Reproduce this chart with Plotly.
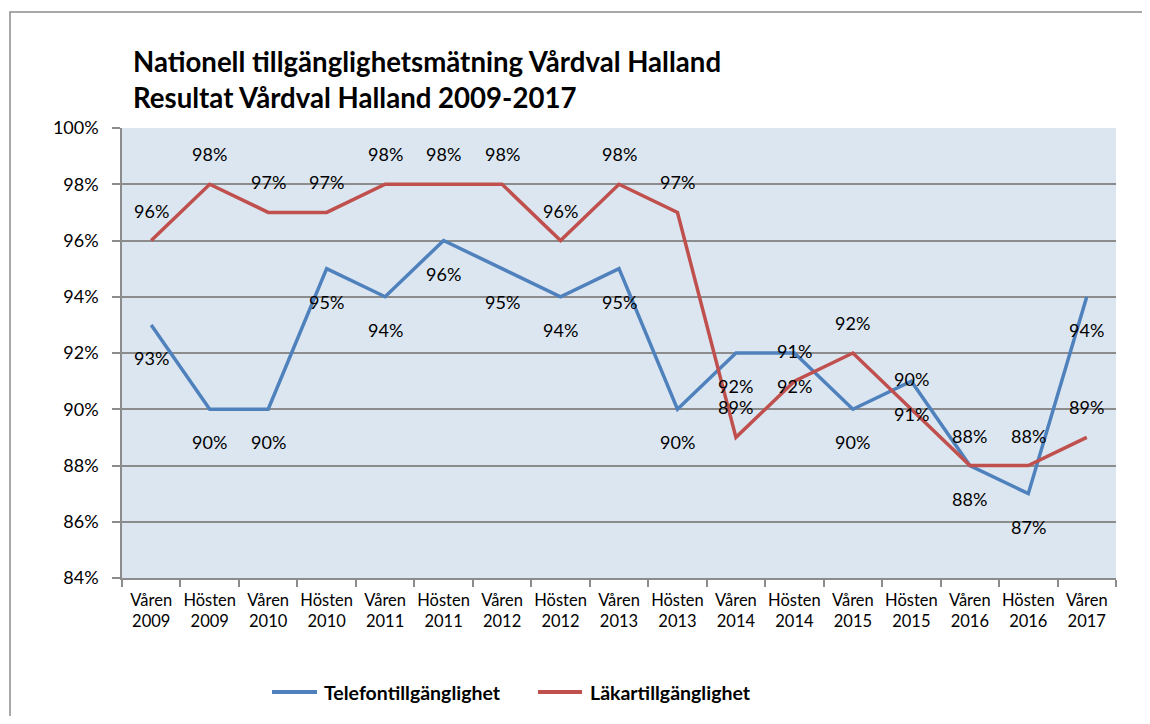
import plotly.graph_objects as go

categories = ["Våren<br>2009", "Hösten<br>2009", "Våren<br>2010", "Hösten<br>2010", "Våren<br>2011",
              "Hösten<br>2011", "Våren<br>2012", "Hösten<br>2012", "Våren<br>2013", "Hösten<br>2013",
              "Våren<br>2014", "Hösten<br>2014", "Våren<br>2015", "Hösten<br>2015", "Våren<br>2016",
              "Hösten<br>2016", "Våren<br>2017"]
telefon = [93, 90, 90, 95, 94, 96, 95, 94, 95, 90, 92, 92, 90, 91, 88, 87, 94]
lakar = [96, 98, 97, 97, 98, 98, 98, 96, 98, 97, 89, 91, 92, 90, 88, 88, 89]
y_ticks = [84, 86, 88, 90, 92, 94, 96, 98, 100]
series_names = ["Telefontillgänglighet", "Läkartillgänglighet"]

BLUE = "#4F81BD"
RED = "#C0504D"
GRID = "#8C8C8C"
FONT = "Lato"

# page body has an 8px margin; figure coordinates = screen - 8
W, H = 1134, 708
L, T = 114, 120
PW, PH = 994, 450
R = W - L - PW
B = H - T - PH


def px(xs):
    return (xs - 8 - L) / PW


def py(ys):
    return 1 - (ys - 8 - T) / PH


fig = go.Figure()
fig.add_trace(go.Scatter(x=categories, y=telefon, mode="lines", name=series_names[0],
                         line=dict(color=BLUE, width=3.5), showlegend=False))
fig.add_trace(go.Scatter(x=categories, y=lakar, mode="lines", name=series_names[1],
                         line=dict(color=RED, width=3.5), showlegend=False))

annotations = []
for c, v in zip(categories, telefon):
    annotations.append(dict(x=c, y=v, text=f"{v}%", showarrow=False, yshift=-33,
                            font=dict(family=FONT, size=18, color="#000")))
for c, v in zip(categories, lakar):
    annotations.append(dict(x=c, y=v, text=f"{v}%", showarrow=False, yshift=30,
                            font=dict(family=FONT, size=18, color="#000")))

shapes = [
    dict(type="rect", xref="paper", yref="paper",
         x0=px(10), x1=px(1170), y0=py(760), y1=py(12),
         line=dict(color="#8C8C8C", width=1.5), fillcolor="rgba(0,0,0,0)", layer="below"),
]

# manual legend
legend_items = [(series_names[0], BLUE, 272, 317, 322), (series_names[1], RED, 538, 582, 588)]
for name, col, x0, x1, xt in legend_items:
    shapes.append(dict(type="line", xref="paper", yref="paper", x0=px(x0), x1=px(x1),
                       y0=py(692), y1=py(692), line=dict(color=col, width=4)))
    annotations.append(dict(x=px(xt), y=py(692), xref="paper", yref="paper", text=f"<b>{name}</b>",
                            showarrow=False, xanchor="left", yanchor="middle",
                            font=dict(family=FONT, size=19.5, color="#000")))

fig.update_layout(
    width=W, height=H,
    margin=dict(l=L, r=R, t=T, b=B),
    paper_bgcolor="white",
    plot_bgcolor="#DCE6F1",
    font=dict(family=FONT, color="#000"),
    title=dict(text="<b>Nationell tillgänglighetsmätning Vårdval Halland<br>Resultat Vårdval Halland 2009-2017</b>",
               x=px(133), xref="paper", xanchor="left",
               y=1 - (72 - 8) / H, yref="container", yanchor="middle",
               font=dict(family=FONT, size=27.6, color="#000")),
    showlegend=False,
    annotations=annotations,
    shapes=shapes,
)

fig.update_xaxes(type="category", range=[-0.5, 16.5], tickson="boundaries", ticks="outside",
                 ticklen=7, tickcolor=GRID, tickwidth=1.5, ticklabelstandoff=6,
                 showline=True, linecolor=GRID, linewidth=1.5, showgrid=False,
                 tickfont=dict(family=FONT, size=16.5, color="#000"), tickangle=0)
fig.update_yaxes(range=[84, 100], tickvals=y_ticks, ticktext=[f"{t}%" for t in y_ticks],
                 ticks="outside", ticklen=8, tickcolor=GRID, tickwidth=1.5, ticklabelstandoff=10,
                 showline=True, linecolor=GRID, linewidth=1.5,
                 showgrid=True, gridcolor=GRID, gridwidth=1.8, zeroline=False,
                 tickfont=dict(family=FONT, size=18, color="#000"))

fig.write_html("out.html")
